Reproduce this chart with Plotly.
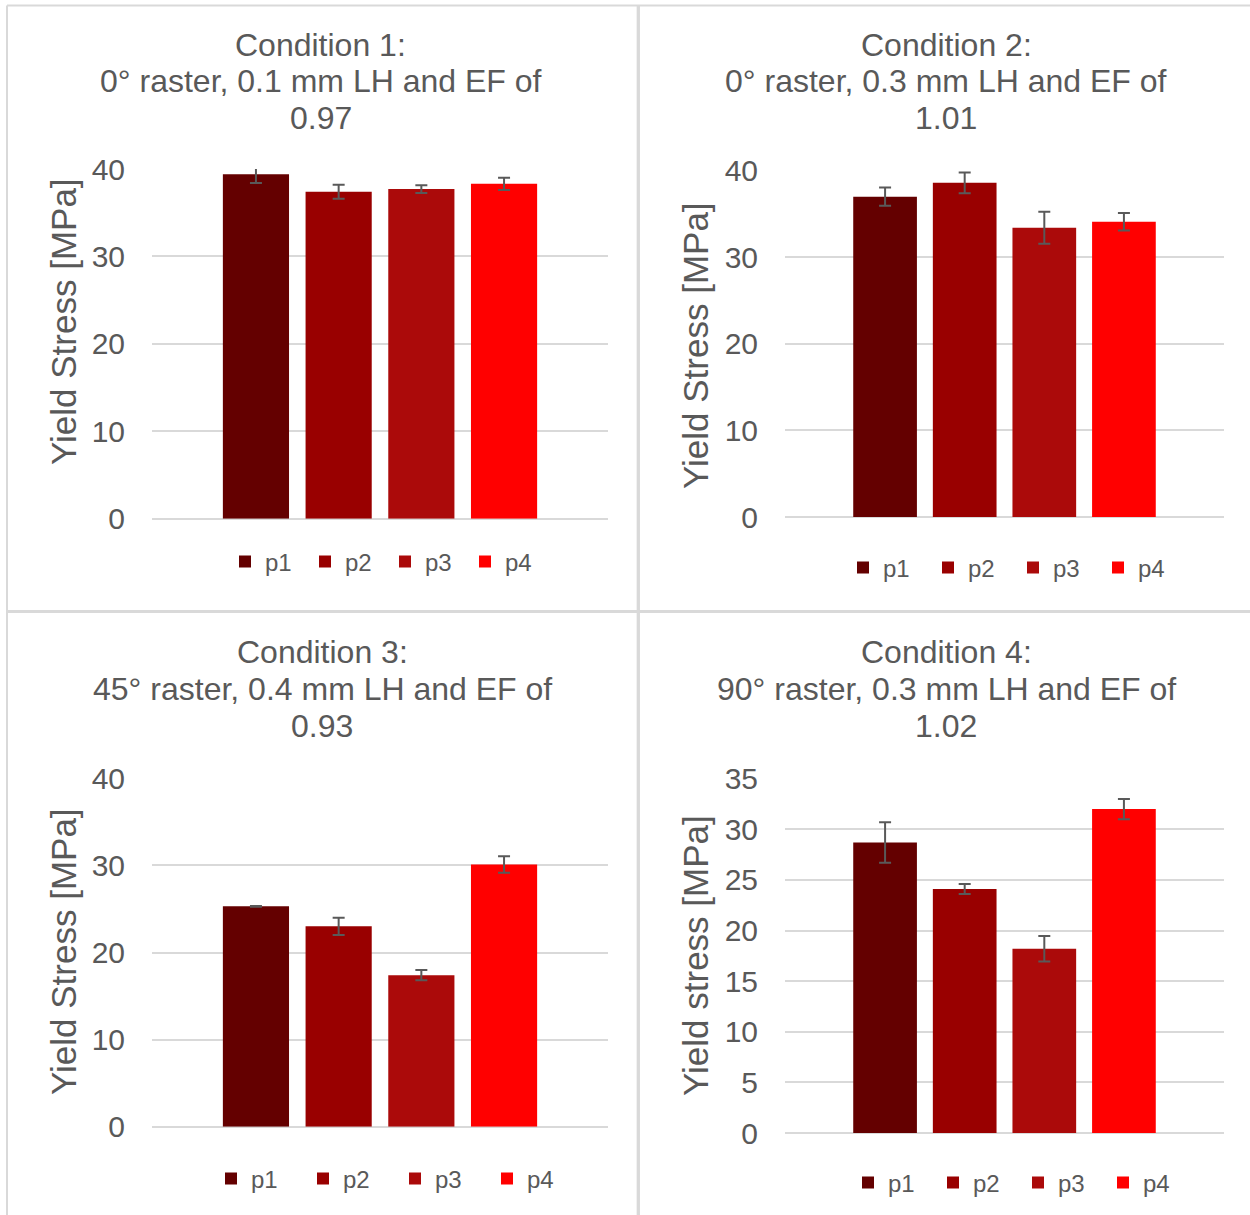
import plotly.graph_objects as go

W, H = 1250, 1215

# ---------------- data ----------------
series = ["p1", "p2", "p3", "p4"]
colors = ["#640000", "#990000", "#AB0A0A", "#FF0000"]

cond1_vals = [39.4, 37.4, 37.7, 38.3]
cond1_err = [1.0, 0.8, 0.45, 0.7]
cond2_vals = [37.0, 38.6, 33.4, 34.1]
cond2_err = [1.05, 1.2, 1.85, 1.0]
cond3_vals = [25.3, 23.0, 17.4, 30.1]
cond3_err = [0.05, 1.0, 0.6, 0.95]
cond4_vals = [28.7, 24.1, 18.2, 32.0]
cond4_err = [2.0, 0.5, 1.25, 1.0]

titles = [
    ["Condition 1:", "0° raster, 0.1 mm LH and EF of", "0.97"],
    ["Condition 2:", "0° raster, 0.3 mm LH and EF of", "1.01"],
    ["Condition 3:", "45° raster, 0.4 mm LH and EF of", "0.93"],
    ["Condition 4:", "90° raster, 0.3 mm LH and EF of", "1.02"],
]
ytitles = ["Yield Stress [MPa]", "Yield Stress [MPa]", "Yield Stress [MPa]", "Yield stress [MPa]"]
y_max = [40, 40, 40, 35]
y_step = [10, 10, 10, 5]

values = [cond1_vals, cond2_vals, cond3_vals, cond4_vals]
errors = [cond1_err, cond2_err, cond3_err, cond4_err]

# ---------------- layout (pixels) ----------------
panels = [
    dict(xd=(152, 608), yd=(169, 518.7), tx=321, ty=(45, 81, 118), ax=63, ay=322, lx=239, ly=562, lsp=80),
    dict(xd=(785, 1224), yd=(170.7, 517), tx=946, ty=(45, 81, 118), ax=695, ay=346, lx=857, ly=568, lsp=85),
    dict(xd=(152, 608), yd=(778.3, 1126.7), tx=322, ty=(652, 689, 726), ax=63, ay=952, lx=225, ly=1179, lsp=92),
    dict(xd=(785, 1224), yd=(778.7, 1133), tx=946, ty=(652, 689, 726), ax=695, ay=956, lx=862, ly=1183, lsp=85),
]

FONT = "Arial, Liberation Sans, sans-serif"
TXT = "#595959"
GRID = "#D9D9D9"


def px(x):
    return x / W


def py(y):
    return 1 - y / H


fig = go.Figure()
annotations = []
shapes = []
layout = {}

for i, p in enumerate(panels):
    k = i + 1
    xa = "x" if k == 1 else f"x{k}"
    ya = "y" if k == 1 else f"y{k}"
    lg = "legend" if k == 1 else f"legend{k}"
    for j, s in enumerate(series):
        fig.add_trace(go.Bar(
            x=[j], y=[values[i][j]], name=s,
            marker=dict(color=colors[j], line=dict(width=0)),
            width=0.8,
            error_y=dict(type="data", array=[errors[i][j]], visible=True,
                         color=TXT, thickness=2, width=6),
            xaxis=xa, yaxis=ya, legend=lg, showlegend=True,
        ))
    xkey = "xaxis" if k == 1 else f"xaxis{k}"
    ykey = "yaxis" if k == 1 else f"yaxis{k}"
    layout[xkey] = dict(domain=[px(p["xd"][0]), px(p["xd"][1])], range=[-1.257, 4.257],
                        showticklabels=False, showgrid=False, zeroline=False, automargin=False,
                        showline=False, ticks="", anchor=ya, fixedrange=True)
    layout[ykey] = dict(domain=[py(p["yd"][1]), py(p["yd"][0])], range=[0, y_max[i]],
                        dtick=y_step[i], tick0=0, showgrid=True, gridcolor=GRID, gridwidth=1.5,
                        zeroline=True, zerolinecolor=GRID, zerolinewidth=1.5, automargin=False,
                        showline=False, ticks="", ticklabelstandoff=26,
                        tickfont=dict(family=FONT, size=30, color=TXT), anchor=xa)
    layout[lg] = dict(orientation="h", x=px(p["lx"] - 14), y=py(p["ly"]),
                      xanchor="left", yanchor="middle",
                      font=dict(family=FONT, size=24, color=TXT),
                      bgcolor="rgba(0,0,0,0)", itemwidth=30,
                      entrywidth=p["lsp"] - 45, entrywidthmode="pixels",
                      traceorder="normal", itemclick=False, itemdoubleclick=False)
    for line, yy in zip(titles[i], p["ty"]):
        annotations.append(dict(text=line, x=px(p["tx"]), y=py(yy), xref="paper", yref="paper",
                                xanchor="center", yanchor="middle", showarrow=False,
                                font=dict(family=FONT, size=32, color=TXT)))
    annotations.append(dict(text=ytitles[i], x=px(p["ax"]), y=py(p["ay"]), xref="paper", yref="paper",
                            xanchor="center", yanchor="middle", showarrow=False, textangle=-90,
                            font=dict(family=FONT, size=35, color=TXT)))

# panel borders
border = [
    ((7, 5.5), (1250, 5.5), 2),
    ((7, 611.5), (1250, 611.5), 3),
    ((7, 5.5), (7, 1215), 2),
    ((638.3, 5.5), (638.3, 1215), 3.3),
]
for (x0, y0), (x1, y1), w in border:
    shapes.append(dict(type="line", xref="paper", yref="paper", x0=px(x0), y0=py(y0),
                       x1=px(x1), y1=py(y1), line=dict(color=GRID, width=w)))

fig.update_layout(**layout)
fig.update_layout(
    width=W, height=H, margin=dict(l=0, r=0, t=0, b=0, autoexpand=False),
    paper_bgcolor="white", plot_bgcolor="white",
    barmode="overlay", annotations=annotations, shapes=shapes,
    font=dict(family=FONT, color=TXT),
)

fig.write_html("out.html", config={"displayModeBar": False},
               post_script="document.body.style.margin='0';")
